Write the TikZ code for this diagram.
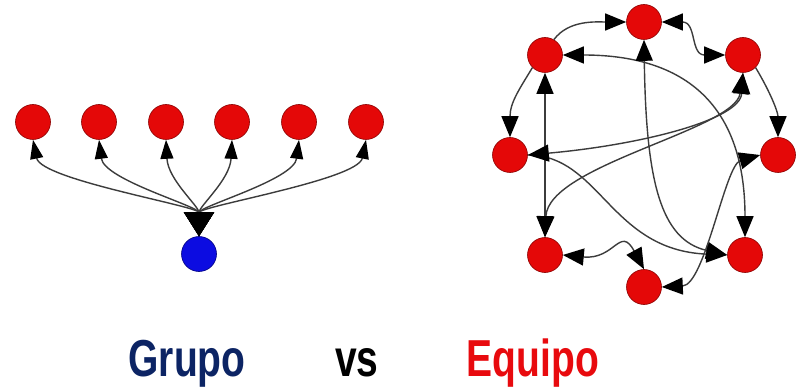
\documentclass[tikz,border=0pt]{standalone}
\usepackage{fontspec}
\setmainfont{Liberation Sans}
\usetikzlibrary{arrows.meta}
\definecolor{nodered}{RGB}{228,8,8}
\definecolor{nodeblue}{RGB}{12,12,225}
\definecolor{navy}{RGB}{12,36,100}
\definecolor{titlered}{RGB}{232,10,14}
\definecolor{edge}{RGB}{60,60,60}
\tikzset{
  rn/.style={circle, fill=nodered, draw=red!55!black, line width=0.6pt, inner sep=0pt, minimum size=35pt},
  bn/.style={circle, fill=nodeblue, draw=blue!50!black, line width=0.6pt, inner sep=0pt, minimum size=35pt},
  fan/.style={draw=edge, line width=1.4pt, {Triangle[length=24pt,width=30pt,color=black]}-{Triangle[length=19pt,width=13pt,color=black]}},
  eo/.style={draw=edge, line width=1.4pt, -{Triangle[length=21pt,width=17pt,color=black]}},
  eb/.style={draw=edge, line width=1.4pt, {Triangle[length=21pt,width=17pt,color=black]}-{Triangle[length=21pt,width=17pt,color=black]}},
  title/.style={font=\fontsize{52}{52}\selectfont\bfseries, xscale=0.75, anchor=base, inner sep=0pt}
}
\begin{document}
\begin{tikzpicture}[x=1pt,y=-1pt]
\useasboundingbox[fill=white] (0,0) rectangle (800,387);
% left: Grupo
\node[rn] (l1) at (33,122) {};
\node[rn] (l2) at (99,122) {};
\node[rn] (l3) at (166,122) {};
\node[rn] (l4) at (232,122) {};
\node[rn] (l5) at (299,122) {};
\node[rn] (l6) at (366,122) {};
\node[bn] (b) at (199,254) {};
\draw[fan] (b.north) .. controls +(0,-30) and +(8,40) .. (l1.south);
\draw[fan] (b.north) .. controls +(0,-30) and +(5,40) .. (l2.south);
\draw[fan] (b.north) .. controls +(0,-30) and +(2,40) .. (l3.south);
\draw[fan] (b.north) .. controls +(0,-30) and +(-2,40) .. (l4.south);
\draw[fan] (b.north) .. controls +(0,-30) and +(-5,40) .. (l5.south);
\draw[fan] (b.north) .. controls +(0,-30) and +(-8,40) .. (l6.south);
% right: Equipo
\node[rn] (n1) at (644,22) {};
\node[rn] (n2) at (545,55) {};
\node[rn] (n3) at (743,55) {};
\node[rn] (n4) at (510,155) {};
\node[rn] (n5) at (778,155) {};
\node[rn] (n6) at (545,255) {};
\node[rn] (n7) at (745,255) {};
\node[rn] (n8) at (644,287) {};
\draw[eo] (n2.60) .. controls +(15,-20) and +(-30,0) .. (n1.west);
\draw[eb] (n1.east) .. controls +(35,0) and +(-35,0) .. (n3.west);
\draw[eo] (n2.225) .. controls +(-12,20) and +(0,-35) .. (n4.north);
\draw[eb] (n2.south) -- (n6.north);
\draw[eb] (n2.east) .. controls (680,55) and (745,100) .. (n7.north);
\draw[eb] (n1.south) .. controls (646,180) and (660,240) .. (n7.west);
\draw[eo] (n4.east) .. controls (600,155) and (610,250) .. (n7.west);
\draw[eb] (n3.south) .. controls (740,120) and (640,145) .. (n4.east);
\draw[eb] (n3.south) .. controls (735,130) and (548,165) .. (n6.north);
\draw[eo] (n3.south east) .. controls +(15,25) and +(0,-25) .. (n5.north);
\draw[eb] (n5.west) .. controls (725,165) and (705,285) .. (n8.east);
\draw[eb] (n6.east) .. controls (615,260) and (620,225) .. (n8.north);
% titles
\node[title, text=navy] (tg) at (187,376) {Grupo};
\node[title, text=black] (tv) at (357,376) {vs};
\node[title, text=titlered] (te) at (533,376) {Equipo};
\end{tikzpicture}
\end{document}
